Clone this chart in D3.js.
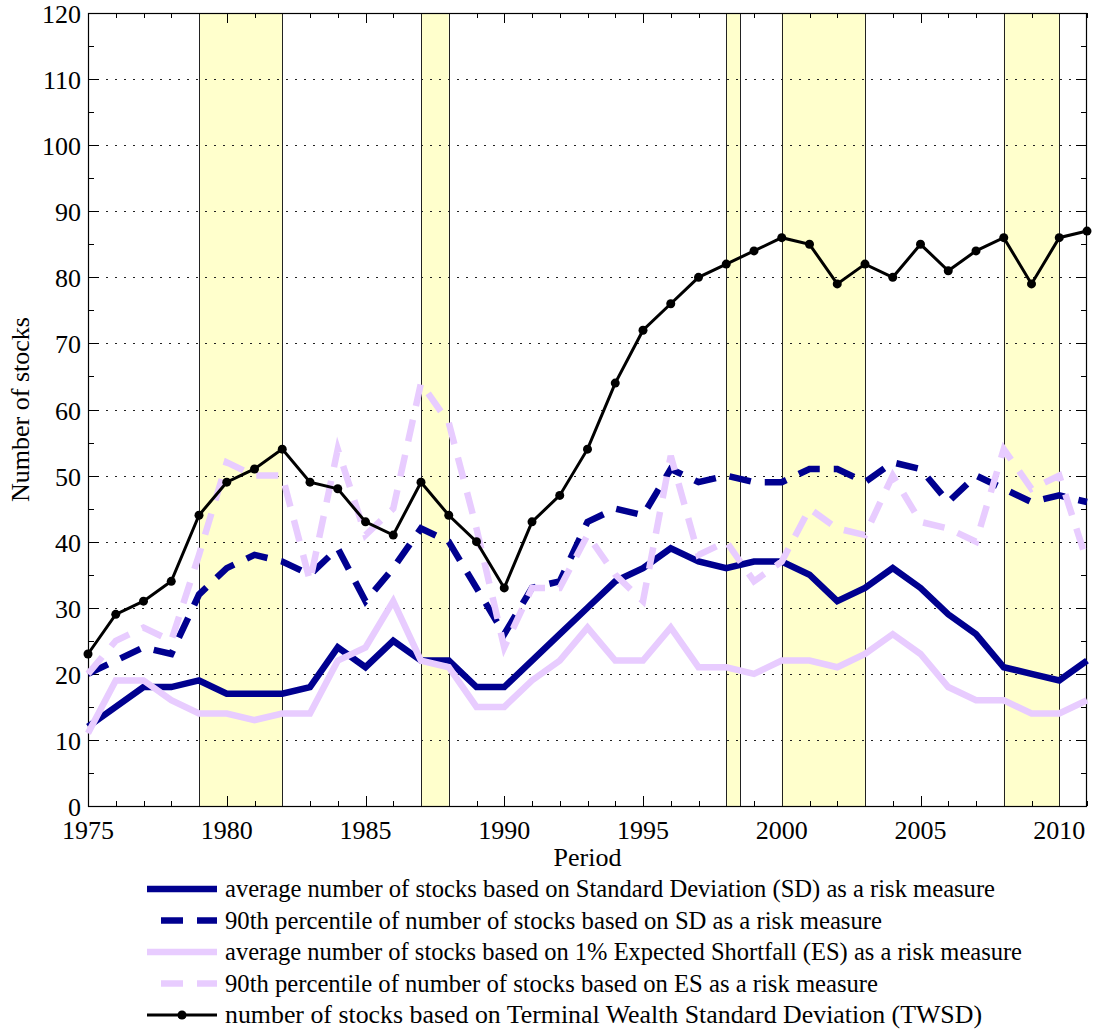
<!DOCTYPE html>
<html><head><meta charset="utf-8">
<script src="https://cdn.jsdelivr.net/npm/d3@7/dist/d3.min.js"></script>
<style>
body{margin:0;background:#fff}
svg{display:block}
</style>
</head><body>
<svg id="chart" width="1095" height="1032"></svg>
<script>
// ---------- data ----------
const years = [1975,1976,1977,1978,1979,1980,1981,1982,1983,1984,1985,1986,1987,1988,1989,1990,1991,1992,1993,1994,1995,1996,1997,1998,1999,2000,2001,2002,2003,2004,2005,2006,2007,2008,2009,2010,2011];
const sdAvg = [12,15,18,18,19,17,17,17,18,24,21,25,22,22,18,18,22,26,30,34,36,39,37,36,37,37,35,31,33,36,33,29,26,21,20,19,22];
const sd90  = [20,22,24,23,32,36,38,37,35,39,31,36,42,40,33,26,33,34,43,45,44,51,49,50,49,49,51,51,49,52,51,46,50,48,46,47,46];
const esAvg = [11,19,19,16,14,14,13,14,14,22,24,31,22,21,15,15,19,22,27,22,22,27,21,21,20,22,22,21,23,26,23,18,16,16,14,14,16];
const es90  = [20,25,27,25,38,52,50,50,34,54,41,45,64,58,42,24,33,33,41,35,31,53,38,40,34,37,45,42,41,50,43,42,40,54,48,50,37];
const twsd  = [23,29,31,34,44,49,51,54,49,48,43,41,49,44,40,33,43,47,54,64,72,76,80,82,84,86,85,79,82,80,85,81,84,86,79,86,87];
const bandStarts = [1979,1987,1998,2000,2008];
const bandEnds   = [1982,1988,1998.5,2003,2010];
const xTickLabels = [1975,1980,1985,1990,1995,2000,2005,2010];
const yTickLabels = [0,10,20,30,40,50,60,70,80,90,100,110,120];
const seriesNames = [
  "average number of stocks based on Standard Deviation (SD) as a risk measure",
  "90th percentile of number of stocks based on SD as a risk measure",
  "average number of stocks based on 1% Expected Shortfall (ES) as a risk measure",
  "90th percentile of number of stocks based on ES as a risk measure",
  "number of stocks based on Terminal Wealth Standard Deviation (TWSD)"
];

// ---------- layout ----------
const FONT = '"Liberation Serif", "Times New Roman", serif';
const L = 88, R = 1087, T = 13, B = 806;
const NAVY = "#00008f", LILAC = "#e8ccff";

const svg = d3.select("#chart");
const x = d3.scaleLinear().domain([1975, 2011]).range([L, R]);
const y = d3.scaleLinear().domain([0, 120]).range([B, T]);

// bands
const bands = bandStarts.map((s, i) => ({s, e: bandEnds[i]}));
svg.append("g").selectAll("rect").data(bands).join("rect")
  .attr("x", d => x(d.s)).attr("y", T)
  .attr("width", d => x(d.e) - x(d.s)).attr("height", B - T)
  .attr("fill", "#ffffcc");

// gridlines (y only, dotted)
svg.append("g").selectAll("line").data(yTickLabels.slice(1, -1)).join("line")
  .attr("x1", L).attr("x2", R)
  .attr("y1", d => Math.round(y(d)) + 0.5).attr("y2", d => Math.round(y(d)) + 0.5)
  .attr("stroke", "#222").attr("stroke-width", 1)
  .attr("stroke-dasharray", "2,7");

// ticks
const tickG = svg.append("g").attr("stroke", "#000").attr("stroke-width", 1);
const minorX = x.ticks(36);
tickG.selectAll(".mxb").data(minorX).join("line")
  .attr("x1", d => Math.round(x(d)) + 0.5).attr("x2", d => Math.round(x(d)) + 0.5)
  .attr("y1", B).attr("y2", d => B - (d % 5 === 0 ? 10 : 5));
tickG.selectAll(".mxt").data(minorX).join("line")
  .attr("x1", d => Math.round(x(d)) + 0.5).attr("x2", d => Math.round(x(d)) + 0.5)
  .attr("y1", T).attr("y2", d => T + (d % 5 === 0 ? 10 : 5));
const minorY = y.ticks(24);
tickG.selectAll(".myl").data(minorY).join("line")
  .attr("y1", d => Math.round(y(d)) + 0.5).attr("y2", d => Math.round(y(d)) + 0.5)
  .attr("x1", L).attr("x2", d => L + (d % 10 === 0 ? 11 : 6));
tickG.selectAll(".myr").data(minorY).join("line")
  .attr("y1", d => Math.round(y(d)) + 0.5).attr("y2", d => Math.round(y(d)) + 0.5)
  .attr("x1", R).attr("x2", d => R - (d % 10 === 0 ? 11 : 6));

// band edges
svg.append("g").selectAll("line").data(bands.flatMap(d => [d.s, d.e])).join("line")
  .attr("x1", d => Math.round(x(d)) + 0.5).attr("x2", d => Math.round(x(d)) + 0.5)
  .attr("y1", T).attr("y2", B)
  .attr("stroke", "#222").attr("stroke-width", 1);

// frame
svg.append("rect").attr("x", L + 0.5).attr("y", T + 0.5)
  .attr("width", R - L - 1).attr("height", B - T)
  .attr("fill", "none").attr("stroke", "#000").attr("stroke-width", 1.2);

// tick labels
svg.append("g").selectAll("text").data(xTickLabels).join("text")
  .attr("x", d => x(d)).attr("y", 839)
  .attr("text-anchor", "middle").attr("fill", "#000")
  .style("font-family", FONT).style("font-size", "26px")
  .text(d => d);
svg.append("g").selectAll("text").data(yTickLabels).join("text")
  .attr("x", 81).attr("y", d => y(d) + 10)
  .attr("text-anchor", "end").attr("fill", "#000")
  .style("font-family", FONT).style("font-size", "26px")
  .text(d => d);

// axis titles
svg.append("text").attr("x", (L + R) / 2).attr("y", 866)
  .attr("text-anchor", "middle").attr("fill", "#000")
  .style("font-family", FONT).style("font-size", "26px").text("Period");
svg.append("text").attr("transform", `translate(29,${(T + B) / 2}) rotate(-90)`)
  .attr("text-anchor", "middle").attr("fill", "#000")
  .style("font-family", FONT).style("font-size", "26px").text("Number of stocks");

// series
const line = d3.line().x((d, i) => x(years[i])).y(d => y(d));
const series = [
  {data: sdAvg, color: NAVY, w: 6.5, dash: null},
  {data: sd90, color: NAVY, w: 6.5, dash: "22,14"},
  {data: esAvg, color: LILAC, w: 6.5, dash: null},
  {data: es90, color: LILAC, w: 6.5, dash: "22,14"},
  {data: twsd, color: "#000", w: 3, dash: null}
];
const plotG = svg.append("g");
series.forEach(s => {
  plotG.append("path").attr("d", line(s.data))
    .attr("fill", "none").attr("stroke", s.color).attr("stroke-width", s.w)
    .attr("stroke-dasharray", s.dash).attr("stroke-linejoin", "miter");
});
plotG.selectAll("circle").data(twsd).join("circle")
  .attr("cx", (d, i) => x(years[i])).attr("cy", d => y(d)).attr("r", 4.5).attr("fill", "#000");

// legend
const legWidths = [770, 657, 797, 653, 757];
const leg = svg.append("g");
series.forEach((s, i) => {
  const ly = 889 + i * 31.5;
  if (s.dash) {
    leg.append("line").attr("x1", 161).attr("x2", 183).attr("y1", ly).attr("y2", ly)
      .attr("stroke", s.color).attr("stroke-width", s.w);
    leg.append("line").attr("x1", 197).attr("x2", 217).attr("y1", ly).attr("y2", ly)
      .attr("stroke", s.color).attr("stroke-width", s.w);
  } else {
    leg.append("line").attr("x1", 147).attr("x2", 217).attr("y1", ly).attr("y2", ly)
      .attr("stroke", s.color).attr("stroke-width", s.w);
  }
  if (i === 4) leg.append("circle").attr("cx", 182).attr("cy", ly).attr("r", 4.5).attr("fill", "#000");
  leg.append("text").attr("x", 225).attr("y", ly + 8).attr("fill", "#000")
    .style("font-family", FONT).style("font-size", "26px")
    .attr("textLength", legWidths[i]).attr("lengthAdjust", "spacingAndGlyphs")
    .text(seriesNames[i]);
});
</script>
</body></html>
